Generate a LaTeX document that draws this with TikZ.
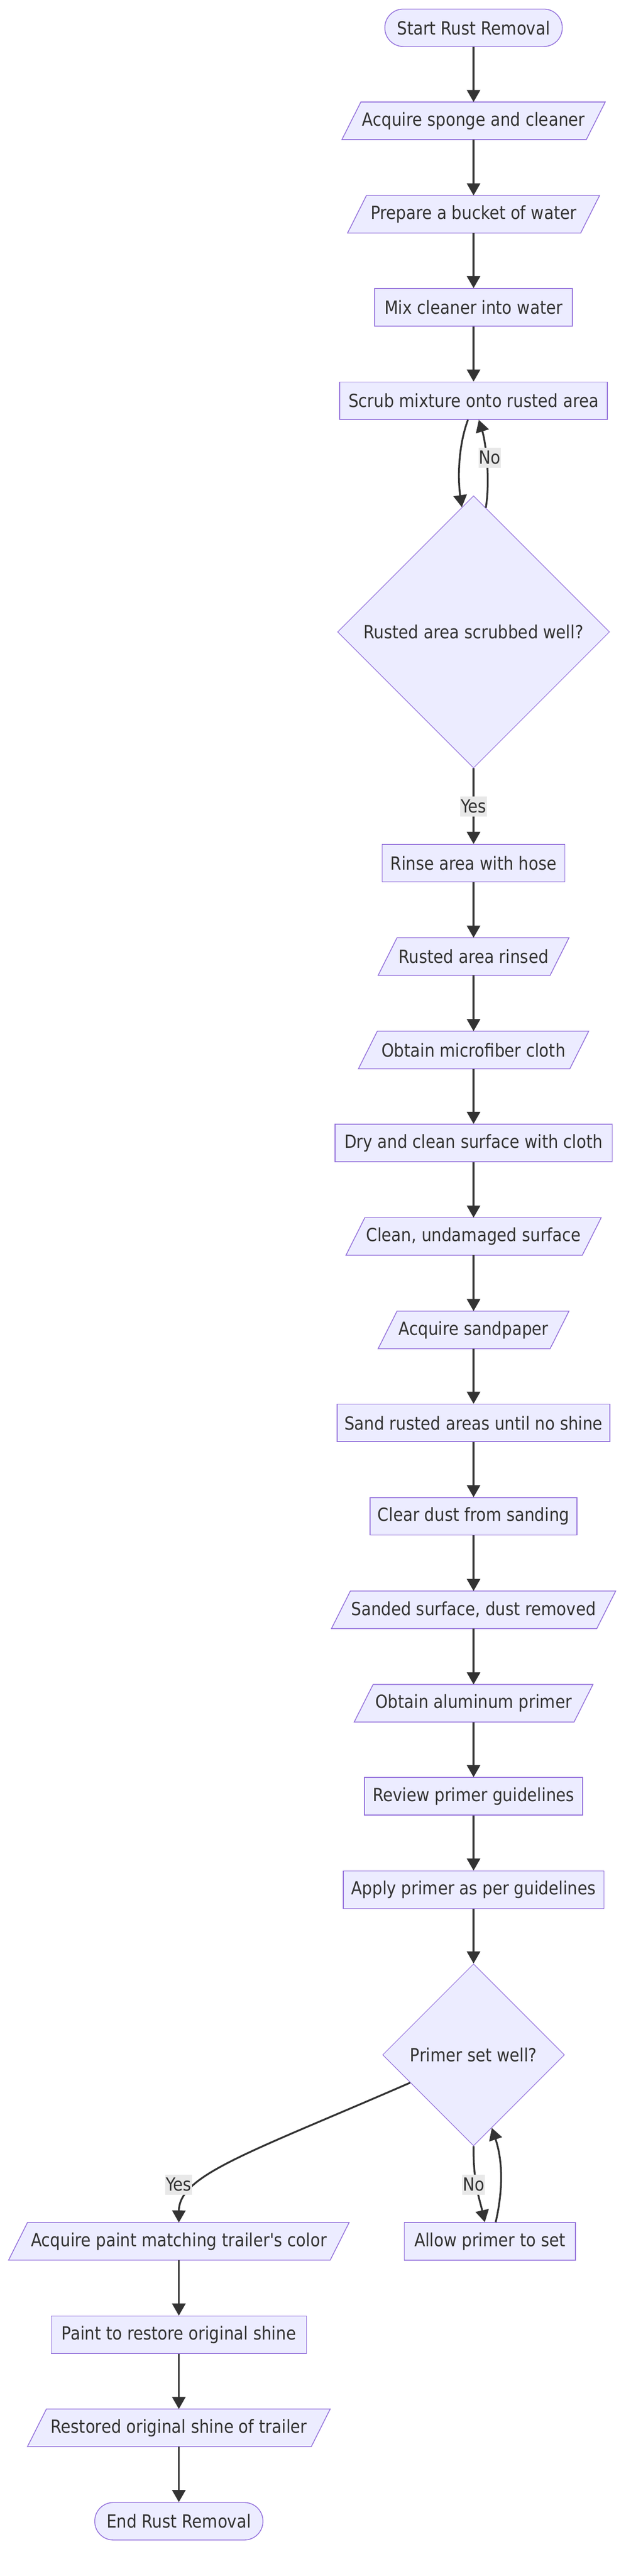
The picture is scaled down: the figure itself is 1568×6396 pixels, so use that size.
\documentclass[tikz,border=0pt]{standalone}
\usepackage{fontspec}
\setmainfont[FakeStretch=0.88, Ligatures=TeXOff]{DejaVu Sans}
\usetikzlibrary{arrows.meta,calc,shapes.geometric}
\definecolor{nodefill}{HTML}{ECECFF}
\definecolor{nodeline}{HTML}{9370DB}
\definecolor{ink}{HTML}{333333}
\definecolor{lblbg}{HTML}{E8E8E8}
\pgfdeclarelayer{bg}
\pgfsetlayers{bg,main}
\newcommand\paraback[1]{%
  \begin{pgfonlayer}{bg}
  \draw[parashape] ($(#1.south west)+(-23.5,0)$) -- ($(#1.north west)+(23.5,0)$)
     -- ($(#1.north east)+(23.5,0)$) -- ($(#1.south east)+(-23.5,0)$) -- cycle;
  \end{pgfonlayer}}
\tikzset{
  base/.style={font=\fontsize{45}{54}\selectfont, text=ink, inner sep=0pt, minimum height=93pt},
  procbox/.style={base, draw=nodeline, fill=nodefill, line width=2pt},
  parabox/.style={base},
  parashape/.style={draw=nodeline, fill=nodefill, line width=2pt},
  termbox/.style={procbox, rounded corners=46pt},
  decbox/.style={base, diamond, aspect=1, draw=nodeline, fill=nodefill, line width=1.5pt},
  edge/.style={draw=ink, line width=4.5pt, -{Triangle[width=33pt,length=30pt]}},
  elabel/.style={font=\fontsize{45}{54}\selectfont, text=ink, fill=lblbg, inner xsep=1pt, inner ysep=0pt, minimum height=50pt},
}
\begin{document}
\begin{tikzpicture}[x=1pt,y=-1pt]
\useasboundingbox (0,0) rectangle (1568,6396);
% main column
\node[termbox, minimum width=441pt] (start) at (1177,69) {Start Rust Removal};
\node[parabox, minimum width=607pt] (n2) at (1177,300) {Acquire sponge and cleaner}; \paraback{n2}
\node[parabox, minimum width=579pt] (n3) at (1177,532) {Prepare a bucket of water}; \paraback{n3}
\node[procbox, minimum width=491pt] (n4) at (1177,763) {Mix cleaner into water};
\node[procbox, minimum width=665pt] (n5) at (1177,995) {Scrub mixture onto rusted area};
\node[decbox, minimum width=676pt, minimum height=676pt] (d1) at (1177,1569) {Rusted area scrubbed well?};
\node[procbox, minimum width=454pt] (n6) at (1177,2143) {Rinse area with hose};
\node[parabox, minimum width=427pt] (n7) at (1177,2375) {Rusted area rinsed}; \paraback{n7}
\node[parabox, minimum width=525pt] (n8) at (1177,2607) {Obtain microfiber cloth}; \paraback{n8}
\node[procbox, minimum width=689pt] (n9) at (1177,2838) {Dry and clean surface with cloth};
\node[parabox, minimum width=587pt] (n10) at (1177,3070) {Clean, undamaged surface}; \paraback{n10}
\node[parabox, minimum width=427pt] (n11) at (1177,3302) {Acquire sandpaper}; \paraback{n11}
\node[procbox, minimum width=678pt] (n12) at (1177,3533) {Sand rusted areas until no shine};
\node[procbox, minimum width=514pt] (n13) at (1177,3765) {Clear dust from sanding};
\node[parabox, minimum width=659pt] (n14) at (1177,3997) {Sanded surface, dust removed}; \paraback{n14}
\node[parabox, minimum width=546pt] (n15) at (1177,4229) {Obtain aluminum primer}; \paraback{n15}
\node[procbox, minimum width=542pt] (n16) at (1177,4460) {Review primer guidelines};
\node[procbox, minimum width=648pt] (n17) at (1177,4692) {Apply primer as per guidelines};
\node[decbox, minimum width=452pt, minimum height=452pt] (d2) at (1177,5102) {Primer set well?};
% lower branches
\node[parabox, minimum width=799pt] (n18) at (444.5,5565) {Acquire paint matching trailer's color}; \paraback{n18}
\node[procbox, minimum width=425pt] (n19) at (1217.5,5565) {Allow primer to set};
\node[procbox, minimum width=634pt] (n20) at (444.5,5797) {Paint to restore original shine};
\node[parabox, minimum width=705pt] (n21) at (444.5,6028) {Restored original shine of trailer}; \paraback{n21}
\node[termbox, minimum width=418pt] (end) at (444.5,6260) {End Rust Removal};
% edges
\draw[edge] (start) -- (n2);
\draw[edge] (n2) -- (n3);
\draw[edge] (n3) -- (n4);
\draw[edge] (n4) -- (n5);
\draw[edge] ([xshift=-14pt]n5.south) .. controls (1138,1110) and (1138,1190) .. ($(d1.north)!0.086!(d1.west)$);
\draw[edge] ($(d1.north)!0.09!(d1.east)$) .. controls (1220,1180) and (1205,1090) .. ([xshift=13pt]n5.south);
\draw[edge] (d1) -- (n6);
\draw[edge] (n6) -- (n7);
\draw[edge] (n7) -- (n8);
\draw[edge] (n8) -- (n9);
\draw[edge] (n9) -- (n10);
\draw[edge] (n10) -- (n11);
\draw[edge] (n11) -- (n12);
\draw[edge] (n12) -- (n13);
\draw[edge] (n13) -- (n14);
\draw[edge] (n14) -- (n15);
\draw[edge] (n15) -- (n16);
\draw[edge] (n16) -- (n17);
\draw[edge] (n17) -- (d2);
\draw[edge] ($(d2.west)!0.305!(d2.south)$) .. controls (620,5345) and (445,5400) .. (n18.north);
\draw[edge] (d2.south) .. controls (1176,5420) and (1192,5460) .. ([xshift=-12.5pt]n19.north);
\draw[edge] ([xshift=14.5pt]n19.north) .. controls (1252,5430) and (1248,5360) .. ($(d2.south)!0.2!(d2.east)$);
\draw[edge] (n18) -- (n20);
\draw[edge] (n20) -- (n21);
\draw[edge] (n21) -- (end);
% edge labels
\node[elabel] (lno1) at (1217,1136) {No};
\node[elabel] (lyes1) at (1177,2002) {Yes};
\node[elabel] (lyes2) at (444,5424) {Yes};
\node[elabel] (lno2) at (1177,5424) {No};
\end{tikzpicture}
\end{document}
